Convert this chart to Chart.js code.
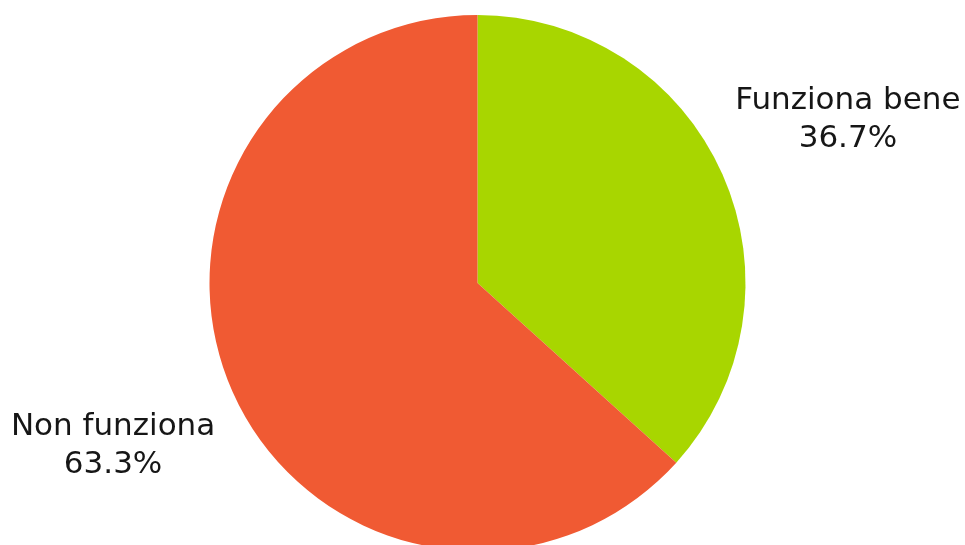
<!DOCTYPE html>
<html>
<head>
<meta charset="utf-8">
<script src="https://cdn.jsdelivr.net/npm/chart.js@4"></script>
<style>
  html, body { margin: 0; padding: 0; background: #fff; overflow: hidden; }
  /* slightly taller than the window so the pie runs off the bottom edge */
  #wrap { width: 965px; height: 551px; }
</style>
</head>
<body>
<div id="wrap"><canvas id="PieChart"></canvas></div>
<script>
const labels = ["Funziona bene", "Non funziona"];
const values = [36.7, 63.3];
const colors = ["#A8D600", "#F05A33"];

// writes "name / percent" outside each slice, along its middle angle
const outsideLabels = {
  id: "outsideLabels",
  afterDatasetsDraw(chart) {
    const ctx = chart.ctx;
    const meta = chart.getDatasetMeta(0);
    ctx.save();
    ctx.font = "31px 'DejaVu Sans'";
    ctx.fillStyle = "#161616";
    ctx.textAlign = "center";
    ctx.textBaseline = "alphabetic";
    meta.data.forEach((arc, i) => {
      const mid = (arc.startAngle + arc.endAngle) / 2;
      const r = arc.outerRadius * 1.5;
      const x = arc.x + Math.cos(mid) * r;
      const y = arc.y + Math.sin(mid) * r;
      ctx.fillText(labels[i], x + 3, y - 11);
      ctx.fillText(values[i].toFixed(1) + "%", x + 3, y + 27);
    });
    ctx.restore();
  }
};

const PieChart = new Chart(document.getElementById("PieChart"), {
  type: "pie",
  data: {
    labels: labels,
    datasets: [
      {
        data: values,
        backgroundColor: colors,
        borderWidth: 0,
      },
    ],
  },
  options: {
    responsive: true,
    maintainAspectRatio: false,
    animation: false,
    layout: { padding: { top: 15, bottom: 0, left: 0, right: 10 } },
    plugins: {
      legend: { display: false },
      tooltip: { enabled: false },
    },
  },
  plugins: [outsideLabels],
});
</script>
</body>
</html>
